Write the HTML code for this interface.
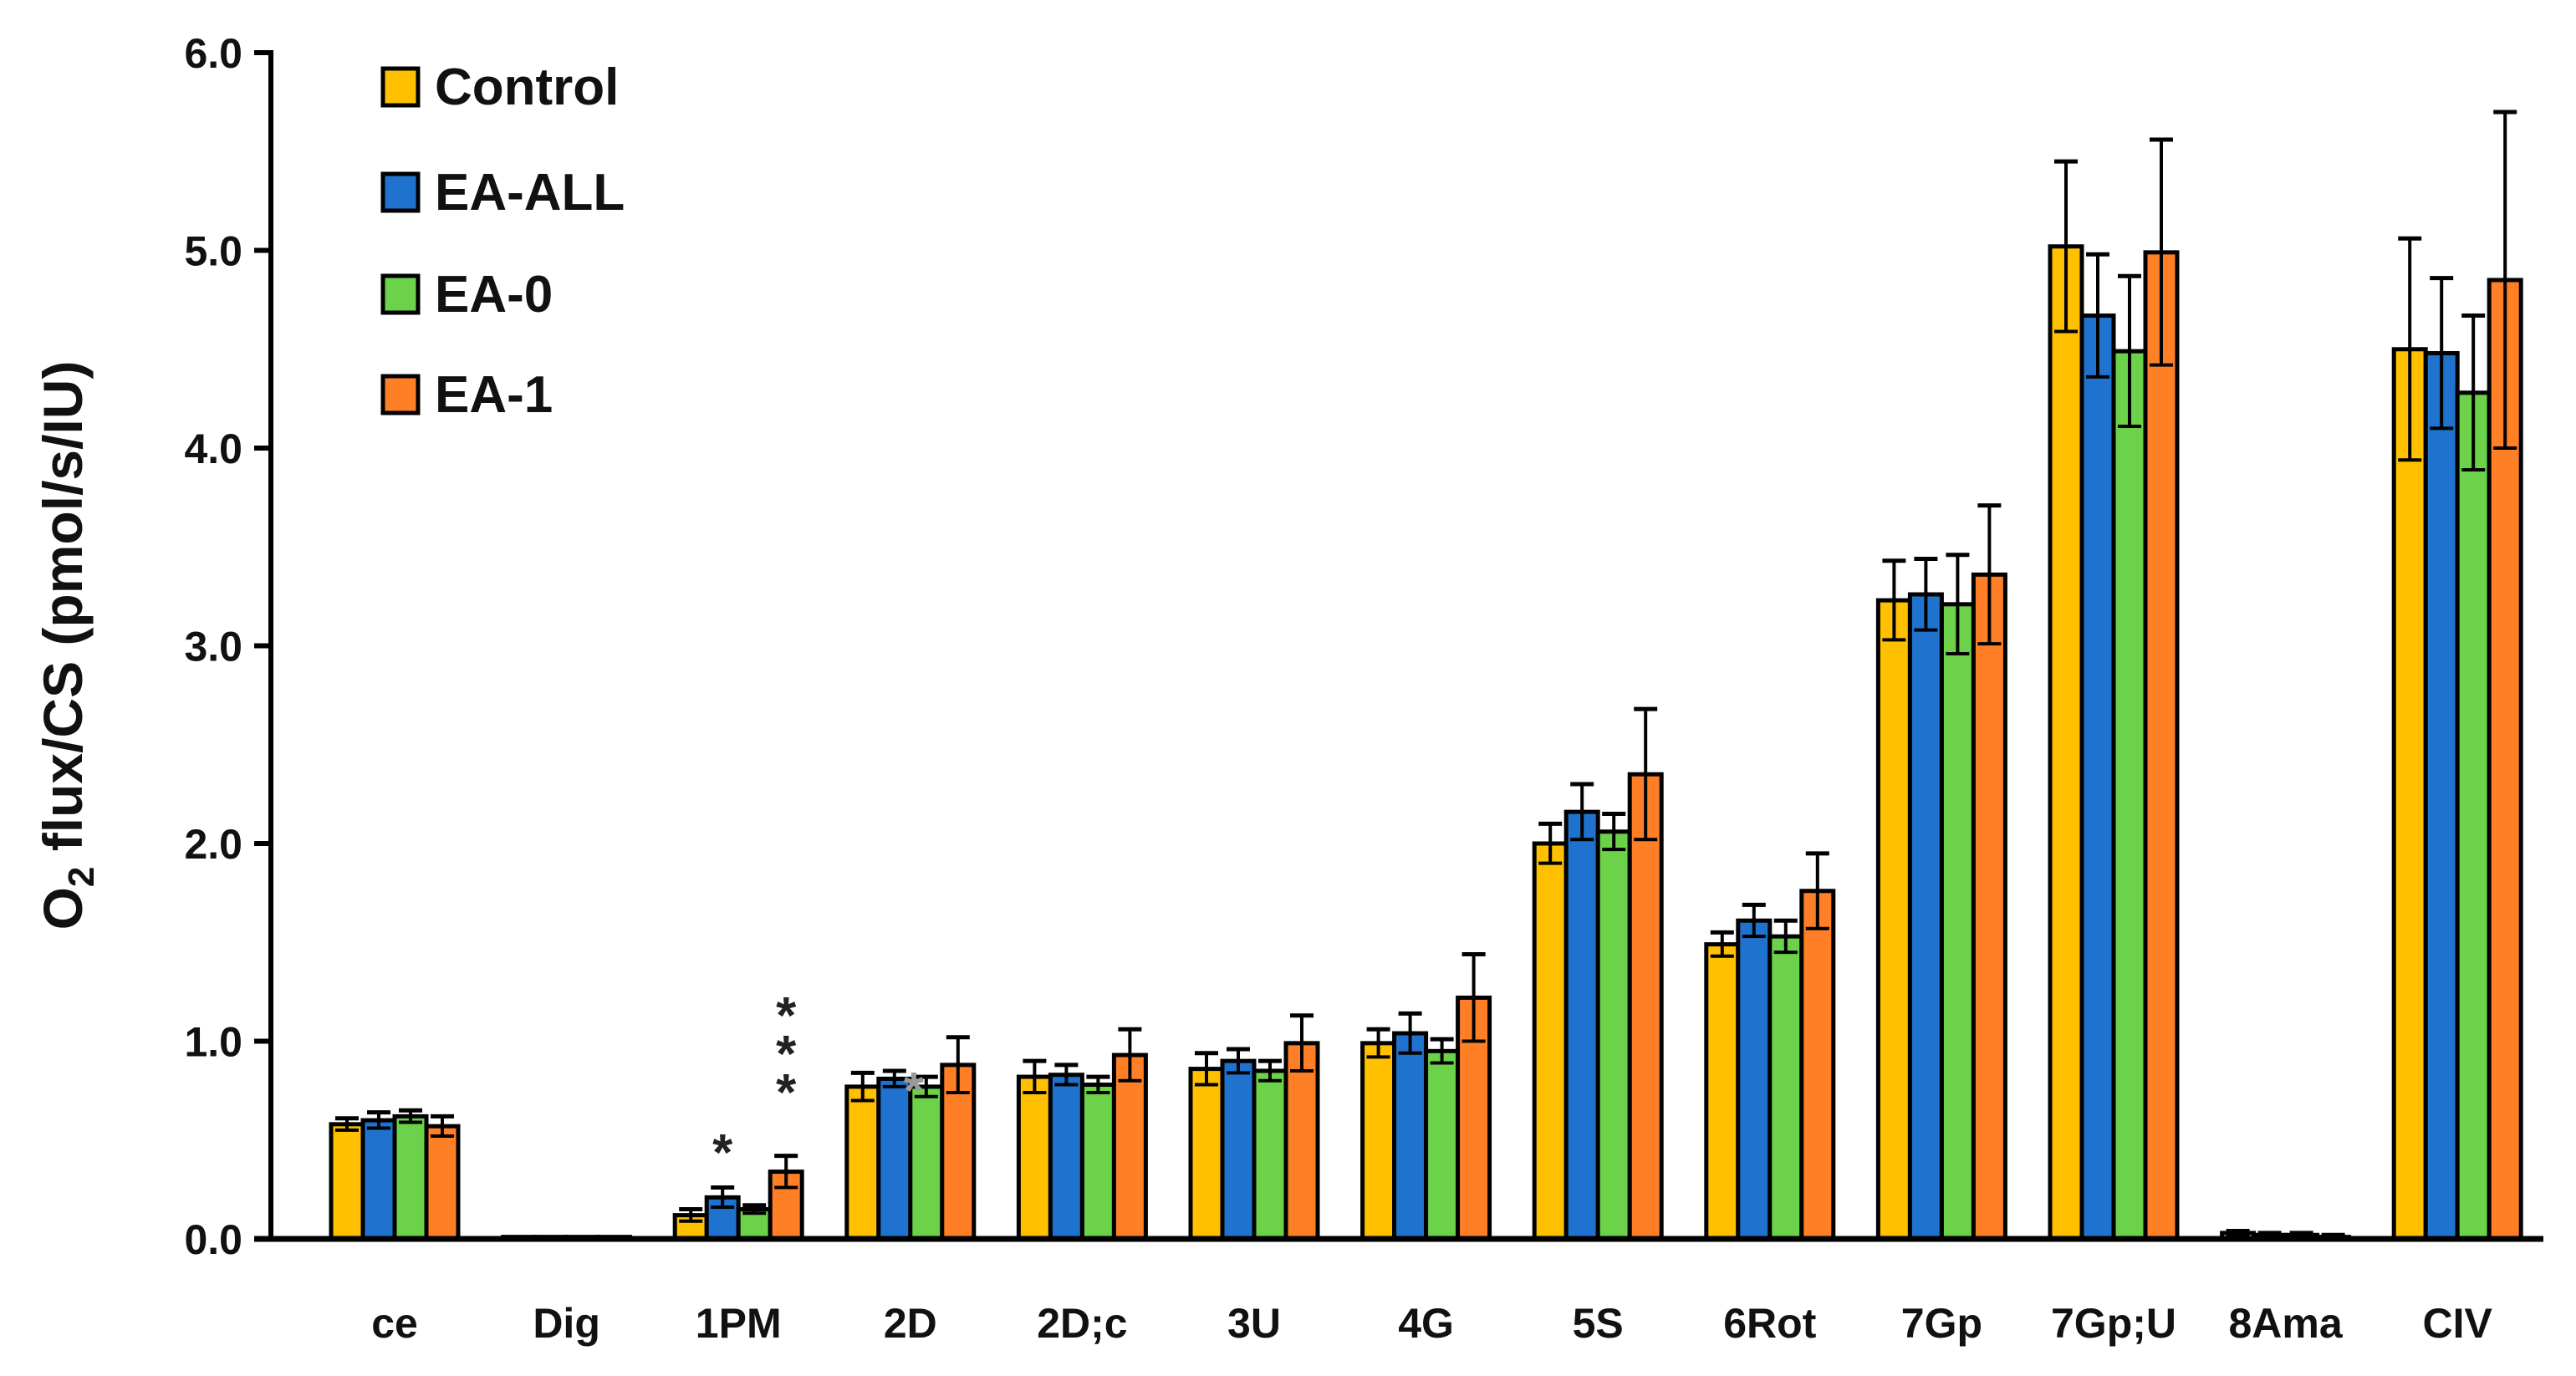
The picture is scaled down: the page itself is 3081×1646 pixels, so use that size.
<!DOCTYPE html>
<html><head><meta charset="utf-8"><style>
html,body{margin:0;padding:0;background:#fff;}
svg{display:block;}
text{font-family:"Liberation Sans",sans-serif;font-weight:bold;fill:#111;}
</style></head><body>
<svg id="chart" width="3081" height="1646" viewBox="0 0 3081 1646" xmlns="http://www.w3.org/2000/svg">
<g id="bars"></g>
<g id="axes"></g>
<g id="legend"></g>
</svg>
<script>
const categories = ["ce","Dig","1PM","2D","2D;c","3U","4G","5S","6Rot","7Gp","7Gp;U","8Ama","CIV"];
const seriesNames = ["Control","EA-ALL","EA-0","EA-1"];
const seriesColors = ["#FFC000","#1F73CF","#6CD24A","#FF7F27"];
const controlVals = [0.58,0.01,0.12,0.77,0.82,0.86,0.99,2.00,1.49,3.23,5.02,0.03,4.50];
const eaAllVals   = [0.60,0.01,0.21,0.81,0.83,0.90,1.04,2.16,1.61,3.26,4.67,0.02,4.48];
const ea0Vals     = [0.62,0.01,0.15,0.77,0.78,0.85,0.95,2.06,1.53,3.21,4.49,0.02,4.28];
const ea1Vals     = [0.57,0.01,0.34,0.88,0.93,0.99,1.22,2.35,1.76,3.36,4.99,0.01,4.85];
const controlErr  = [0.03,0.00,0.03,0.07,0.08,0.08,0.07,0.10,0.06,0.20,0.43,0.01,0.56];
const eaAllErr    = [0.04,0.00,0.05,0.04,0.05,0.06,0.10,0.14,0.08,0.18,0.31,0.01,0.38];
const ea0Err      = [0.03,0.00,0.02,0.05,0.04,0.05,0.06,0.09,0.08,0.25,0.38,0.01,0.39];
const ea1Err      = [0.05,0.00,0.08,0.14,0.13,0.14,0.22,0.33,0.19,0.35,0.57,0.01,0.85];
const yTicks = [0,1,2,3,4,5,6];
const yTickLabels = ["0.0","1.0","2.0","3.0","4.0","5.0","6.0"];

const NS="http://www.w3.org/2000/svg";
const X0=324, X1=3042, Y0=1482, YTOP=63, YMAX=6;
const firstC=472, step=205.6, barW=38;
function yScale(v){return Y0-(v/YMAX)*(Y0-YTOP);}
function xCenter(i){return firstC+i*step;}
function mk(tag,attrs,parent){const e=document.createElementNS(NS,tag);for(const k in attrs)e.setAttribute(k,attrs[k]);parent.appendChild(e);return e;}
const bars=document.getElementById('bars'), axes=document.getElementById('axes'), legend=document.getElementById('legend');
const vals=[controlVals,eaAllVals,ea0Vals,ea1Vals], errs=[controlErr,eaAllErr,ea0Err,ea1Err];
const keys=["control","ea-all","ea-0","ea-1"];
categories.forEach((c,i)=>{
  for(let s=0;s<4;s++){
    const v=vals[s][i], e=errs[s][i];
    const x=xCenter(i)-2*barW+s*barW;
    const y=yScale(v);
    const r=mk('rect',{x:x,y:y,width:barW,height:Math.max(Y0-y,1),fill:seriesColors[s],stroke:'#000','stroke-width':5},bars);
    
    
    if(e>0){
      const cx=x+barW/2, yt=yScale(v+e), yb=yScale(Math.max(v-e,0));
      const l=mk('line',{x1:cx,x2:cx,y1:yt,y2:yb,stroke:'#000','stroke-width':4},bars);
      
      
      mk('line',{x1:cx-14,x2:cx+14,y1:yt,y2:yt,stroke:'#000','stroke-width':5},bars);
      mk('line',{x1:cx-14,x2:cx+14,y1:yb,y2:yb,stroke:'#000','stroke-width':4},bars);
    }
  }
  const t=mk('text',{x:xCenter(i),y:1600,'text-anchor':'middle','font-size':50},axes);
  t.textContent=c;
  
  
});
const ya=mk('line',{x1:X0,x2:X0,y1:YTOP-3,y2:Y0,stroke:'#000','stroke-width':6},axes);


const xa=mk('line',{x1:X0-20,x2:X1,y1:Y0,y2:Y0,stroke:'#000','stroke-width':7},axes);


yTicks.forEach((v,k)=>{
  const y=yScale(v);
  mk('line',{x1:X0-20,x2:X0,y1:y,y2:y,stroke:'#000','stroke-width':6},axes);
  const t=mk('text',{x:290,y:y+18,'text-anchor':'end','font-size':50},axes);
  t.textContent=yTickLabels[k];
  
  
});
const yt=mk('text',{x:0,y:0,'text-anchor':'middle','font-size':66,transform:'translate(98,772) rotate(-90)'},axes);
yt.innerHTML='O<tspan font-size="44" dy="14">2</tspan><tspan dy="-14"> flux/CS (pmol/s/IU)</tspan>';


function star(x,y,col){const t=mk('text',{x:x,y:y,'text-anchor':'middle','font-size':62,'font-weight':'normal',style:'fill:'+col},axes);t.textContent='*';}
star(xCenter(2)-barW/2,1400,'#222');
star(xCenter(2)+1.5*barW,1236,'#222');
star(xCenter(2)+1.5*barW,1282,'#222');
star(xCenter(2)+1.5*barW,1328,'#222');
star(xCenter(3)+4,1326,'#999');
seriesNames.forEach((n,s)=>{
  const cy=[104,230,352,472][s];
  const r=mk('rect',{x:458,y:cy-22,width:42,height:44,fill:seriesColors[s],stroke:'#000','stroke-width':5},legend);
  
  
  const t=mk('text',{x:520,y:cy+21,'font-size':62},legend);
  t.textContent=n;
  
  
});
</script>
</body></html>
